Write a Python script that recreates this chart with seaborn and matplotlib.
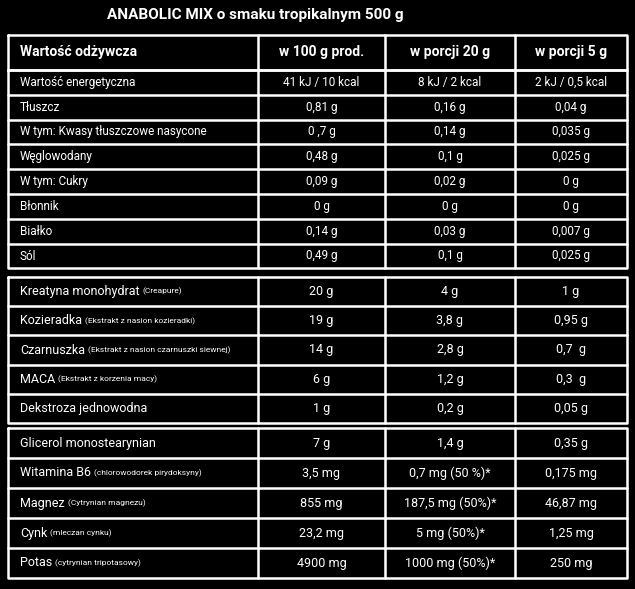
import matplotlib.pyplot as plt
import seaborn as sns

sns.set_style("white")
plt.rcParams['font.family'] = ['Roboto', 'DejaVu Sans']

title = "ANABOLIC MIX o smaku tropikalnym 500 g"
headers = ["Wartość odżywcza", "w 100 g prod.", "w porcji 20 g", "w porcji 5 g"]

sec1_names = ["Wartość energetyczna", "Tłuszcz", "W tym: Kwasy tłuszczowe nasycone", "Węglowodany",
              "W tym: Cukry", "Błonnik", "Białko", "Sól"]
sec1_sub = [""] * 8
sec1_100 = ["41 kJ / 10 kcal", "0,81 g", "0 ,7 g", "0,48 g", "0,09 g", "0 g", "0,14 g", "0,49 g"]
sec1_20 = ["8 kJ / 2 kcal", "0,16 g", "0,14 g", "0,1 g", "0,02 g", "0 g", "0,03 g", "0,1 g"]
sec1_5 = ["2 kJ / 0,5 kcal", "0,04 g", "0,035 g", "0,025 g", "0 g", "0 g", "0,007 g", "0,025 g"]

sec2_names = ["Kreatyna monohydrat", "Kozieradka", "Czarnuszka", "MACA", "Dekstroza jednowodna"]
sec2_sub = ["(Creapure)", "(Ekstrakt z nasion kozieradki)", "(Ekstrakt z nasion czarnuszki siewnej)",
            "(Ekstrakt z korzenia macy)", ""]
sec2_100 = ["20 g", "19 g", "14 g", "6 g", "1 g"]
sec2_20 = ["4 g", "3,8 g", "2,8 g", "1,2 g", "0,2 g"]
sec2_5 = ["1 g", "0,95 g", "0,7  g", "0,3  g", "0,05 g"]

sec3_names = ["Glicerol monostearynian", "Witamina B6", "Magnez", "Cynk", "Potas"]
sec3_sub = ["", "(chlorowodorek pirydoksyny)", "(Cytrynian magnezu)", "(mleczan cynku)", "(cytrynian tripotasowy)"]
sec3_100 = ["7 g", "3,5 mg", "855 mg", "23,2 mg", "4900 mg"]
sec3_20 = ["1,4 g", "0,7 mg (50 %)*", "187,5 mg (50%)*", "5 mg (50%)*", "1000 mg (50%)*"]
sec3_5 = ["0,35 g", "0,175 mg", "46,87 mg", "1,25 mg", "250 mg"]

fig = plt.figure(figsize=(6.35, 5.89), dpi=100, facecolor="black")
ax = fig.add_axes([0, 0, 1, 1])
ax.set_facecolor("black")
ax.set_xlim(0, 635)
ax.set_ylim(589, 0)
ax.axis("off")

cols = [8, 258, 385, 515, 627]
centers = [(cols[i] + cols[i + 1]) / 2 for i in range(4)]
lw = 1.8


def box(top, bottom):
    ax.plot([cols[0], cols[-1], cols[-1], cols[0], cols[0]], [top, top, bottom, bottom, top],
            color="white", lw=lw)
    for c in cols[1:-1]:
        ax.plot([c, c], [top, bottom], color="white", lw=lw)


def section(top, row_h, names, subs, v100, v20, v5, fs=9):
    bottom = top + row_h * len(names)
    box(top, bottom)
    for i, (n, s) in enumerate(zip(names, subs)):
        y = top + row_h * (i + 0.5)
        if i > 0:
            ax.plot([cols[0], cols[-1]], [top + row_h * i] * 2, color="white", lw=lw)
        t = ax.text(20, y, n, color="white", fontsize=fs, va="center", ha="left")
        if s:
            fig.canvas.draw()
            bb = t.get_window_extent()
            ax.text(bb.x1 + 3, y, s, color="white", fontsize=6, va="center", ha="left")
        for c, v in zip(centers[1:], [v100[i], v20[i], v5[i]]):
            ax.text(c, y, v, color="white", fontsize=fs, va="center", ha="center")


ax.text(255, 15, title, color="white", fontsize=11, fontweight="bold", ha="center", va="center")
box(35, 70)
ax.text(20, 52, headers[0], color="white", fontsize=10, fontweight="bold", va="center")
for c, h in zip(centers[1:], headers[1:]):
    ax.text(c, 52, h, color="white", fontsize=10, fontweight="bold", va="center", ha="center")

section(70, 24.8, sec1_names, sec1_sub, sec1_100, sec1_20, sec1_5, fs=8.5)
section(277, 29.2, sec2_names, sec2_sub, sec2_100, sec2_20, sec2_5)
section(428, 30, sec3_names, sec3_sub, sec3_100, sec3_20, sec3_5)

fig.savefig("out.png", dpi=100, facecolor="black")
